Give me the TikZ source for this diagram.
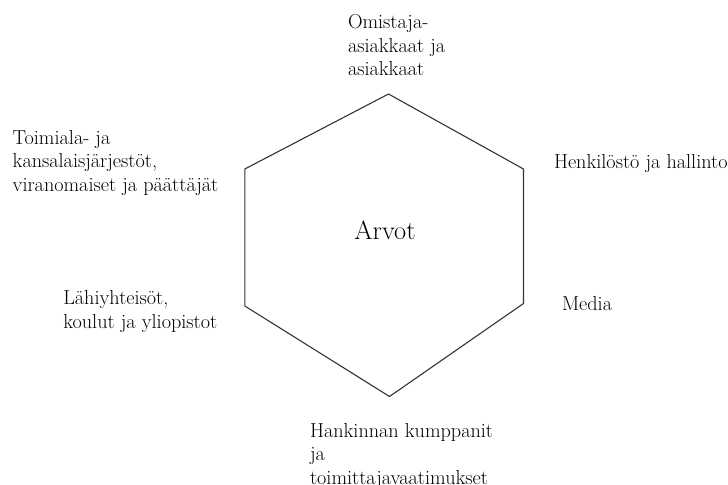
\documentclass[tikz,border=0pt]{standalone}
\begin{document}
\begin{tikzpicture}[x=1bp,y=-1bp,
  label/.style={inner sep=0pt, outer sep=0pt, align=left, anchor=base west,
    font=\fontsize{20.3}{23.8}\selectfont},
  centre/.style={inner sep=0pt, anchor=base, font=\fontsize{26.5}{30}\selectfont},
  hexline/.style={draw=black!80, line width=1.1bp, line join=miter}]
\useasboundingbox (0,0) rectangle (728,485);

% hexagon corners
\coordinate (t)  at (388.5,94);
\coordinate (tr) at (523.5,169);
\coordinate (br) at (523.5,303.5);
\coordinate (b)  at (389.5,396.5);
\coordinate (bl) at (244.8,306);
\coordinate (tl) at (244.8,169);
\draw[hexline] (t) -- (tr) -- (br) -- (b) -- (bl) -- (tl) -- cycle;

\node[centre] (arvot) at (385,240) {Arvot};

% stakeholder groups around the hexagon (anchored on the last line's baseline)
\node[label] (omistaja) at (348,76) {Omistaja-\\asiakkaat ja\\asiakkaat};
\node[label] (toimiala) at (12.7,191.7) {Toimiala- ja\\kansalaisjärjestöt,\\viranomaiset ja päättäjät};
\node[label] (henkilosto) at (554,169) {Henkilöstö ja hallinto};
\node[label] (lahi) at (63.3,328.3) {Lähiyhteisöt,\\koulut ja yliopistot};
\node[label] (media) at (562,310) {Media};
\node[label] (hankinta) at (310,484.5) {Hankinnan kumppanit\\ja\\toimittajavaatimukset};
\end{tikzpicture}
\end{document}
